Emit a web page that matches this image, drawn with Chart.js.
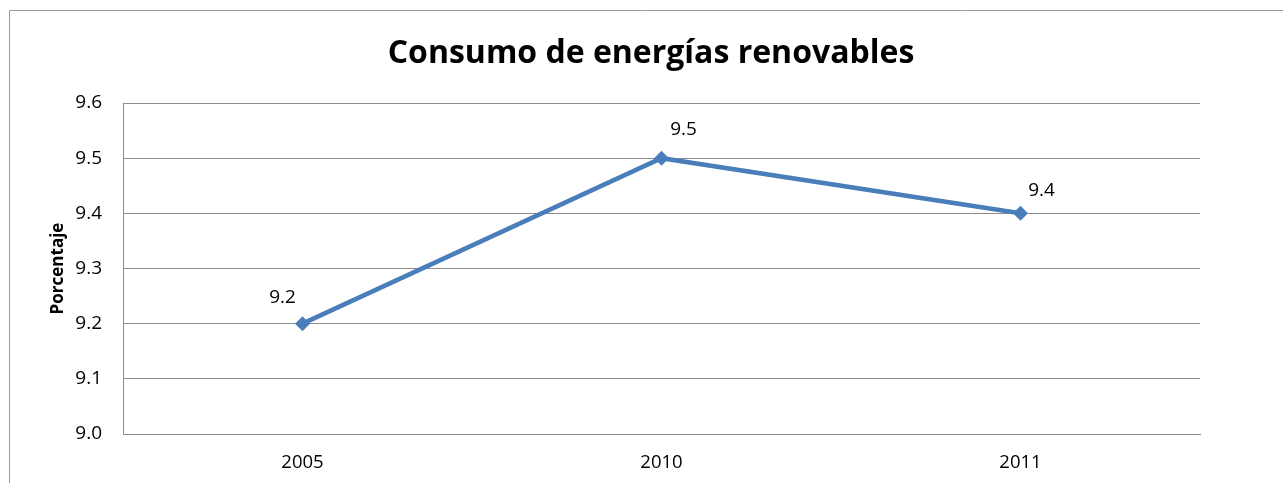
<!DOCTYPE html>
<html>
<head>
<meta charset="utf-8">
<script src="https://cdn.jsdelivr.net/npm/chart.js@4"></script>
<style>
  html, body { margin: 0; padding: 0; background: #fff; overflow: hidden; }
  canvas { display: block; }
</style>
</head>
<body>
<canvas id="myLineChart" width="1283" height="483"></canvas>
<script>
// values
const years = ["2005", "2010", "2011"];
const porcentaje = [9.2, 9.5, 9.4];
const yTicks = [9.0, 9.1, 9.2, 9.3, 9.4, 9.5, 9.6];

const fontName = "'Open Sans', 'DejaVu Sans', sans-serif";

/* draws the outer frame of the chart (left + top, the rest is off-screen) */
const frame = {
  id: "frame",
  beforeDraw(chart) {
    const c = chart.ctx;
    c.save();
    c.strokeStyle = "#9a9a9a";
    c.lineWidth = 1;
    c.beginPath();
    c.moveTo(9.5, chart.height);
    c.lineTo(9.5, 10.5);
    c.lineTo(chart.width, 10.5);
    c.stroke();
    c.restore();
  }
};

/* value labels next to each point, like Excel does */
const valueLabels = {
  id: "valueLabels",
  afterDatasetsDraw(chart, args, opts) {
    const c = chart.ctx;
    const meta = chart.getDatasetMeta(0);
    c.save();
    c.font = "19px " + fontName;
    c.fillStyle = "#000";
    c.textAlign = "center";
    c.textBaseline = "middle";
    meta.data.forEach((pt, i) => {
      const off = opts.offsets[i] || [0, -25];
      const v = chart.data.datasets[0].data[i];
      c.fillText(v.toFixed(1), pt.x + off[0], pt.y + off[1]);
    });
    c.restore();
  }
};

const ctx = document.getElementById("myLineChart").getContext("2d");
const myLineChart = new Chart(ctx, {
  type: "line",
  data: {
    labels: years,
    datasets: [{
      label: "Porcentaje",
      data: porcentaje,
      borderColor: "#4A7EBB",
      backgroundColor: "#4A7EBB",
      borderWidth: 4.5,
      pointStyle: "rectRot",
      pointRadius: 7.5,
      pointBorderWidth: 0,
      tension: 0
    }]
  },
  options: {
    responsive: false,
    animation: false,
    devicePixelRatio: 1,
    layout: { padding: { left: 19, right: 0, top: 0, bottom: 0 } },
    plugins: {
      legend: { display: false },
      tooltip: { enabled: false },
      title: {
        display: true,
        text: "Consumo de energías renovables",
        color: "#000",
        font: { family: fontName, size: 32, weight: "bold" },
        padding: { top: 35, bottom: 29.6 }
      },
      valueLabels: { offsets: [[-20, -26], [22, -29], [21, -23]] }
    },
    scales: {
      x: {
        offset: true,
        grid: { display: false, drawTicks: false },
        border: { color: "#8c8c8c", width: 1 },
        ticks: { color: "#000", font: { family: fontName, size: 18.5 }, padding: 18, maxRotation: 0 },
        afterFit(scale) { scale.height = 49; }
      },
      y: {
        min: yTicks[0],
        max: yTicks[yTicks.length - 1],
        afterBuildTicks(scale) { scale.ticks = yTicks.map(v => ({ value: v })); },
        grid: { color: "#8c8c8c", drawTicks: false },
        border: { color: "#8c8c8c", width: 1 },
        ticks: {
          color: "#000",
          font: { family: fontName, size: 19 },
          padding: 21,
          callback: v => Number(v).toFixed(1)
        },
        title: {
          display: true,
          text: "Porcentaje",
          color: "#000",
          font: { family: fontName, size: 17, weight: "bold" },
          padding: { top: 29, bottom: 0 }
        },
        afterFit(scale) { scale.width = 104; }
      },
      // empty right axis, only keeps the white margin right of the plot
      y2: {
        position: "right",
        display: true,
        grid: { display: false, drawTicks: false },
        border: { display: false },
        ticks: { display: false },
        afterFit(scale) { scale.width = 83; }
      }
    }
  },
  plugins: [frame, valueLabels]
});
</script>
</body>
</html>
